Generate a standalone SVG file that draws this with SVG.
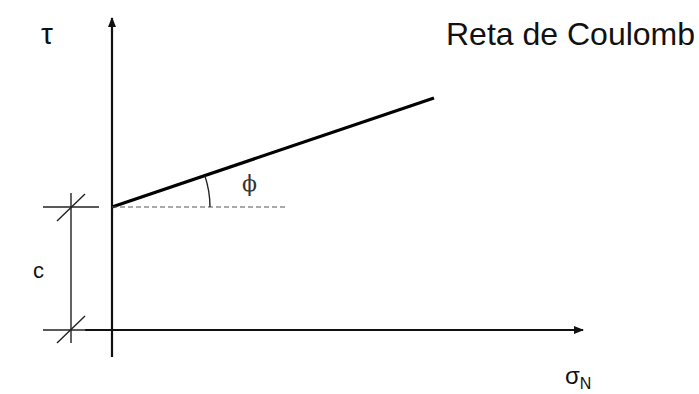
<svg xmlns="http://www.w3.org/2000/svg" width="699" height="394" viewBox="0 0 699 394">
<style>
.t{font-family:"Liberation Sans",Arial,sans-serif;fill:#111}
.ax{stroke:#111;stroke-width:2.2;fill:none}
.thin{stroke:#222;stroke-width:1.4;fill:none}
</style>
<defs>
<marker id="ah" markerWidth="10" markerHeight="8" refX="9" refY="4" orient="auto" markerUnits="userSpaceOnUse">
<path d="M0,0 L10,4 L0,8 z" fill="#111"/>
</marker>
</defs>
<rect width="699" height="394" fill="#fff"/>
<g id="connectors">
<line class="ax" x1="112" y1="357" x2="112" y2="18" marker-end="url(#ah)"/>
<line class="ax" x1="85" y1="330" x2="583" y2="330" marker-end="url(#ah)"/>
<line x1="112" y1="207" x2="434" y2="98" stroke="#000" stroke-width="3.2"/>
<line x1="112" y1="207" x2="287" y2="207" stroke="#555" stroke-width="1" stroke-dasharray="5,3"/>
<path class="thin" d="M210,207 A98,98 0 0 0 204.8,175.6"/>
<line class="thin" x1="71" y1="193" x2="71" y2="343"/>
<line class="thin" x1="43" y1="207" x2="99" y2="207"/>
<line class="thin" x1="43" y1="330" x2="86" y2="330"/>
<line class="thin" x1="57" y1="221" x2="85" y2="194"/>
<line class="thin" x1="57" y1="343" x2="85" y2="316"/>
</g>
<g id="labels">
<text class="t" x="41" y="44" font-size="30">τ</text>
<text class="t" x="446" y="45" font-size="32">Reta de Coulomb</text>
<text class="t" x="33" y="278" font-size="22">c</text>
<text x="242" y="191" font-size="22" font-family="'DejaVu Serif',serif" fill="#333">ϕ</text>
<text class="t" x="565" y="384" font-size="24">σ<tspan font-size="16" dy="5">N</tspan></text>
</g>
</svg>
